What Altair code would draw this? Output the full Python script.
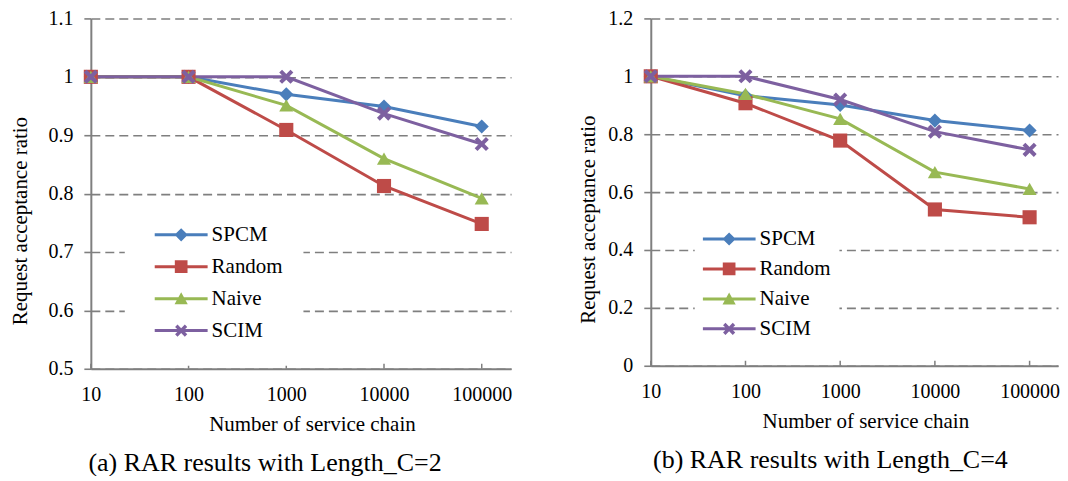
import altair as alt
import pandas as pd

# ---------------- data ----------------
x_vals = [10, 100, 1000, 10000, 100000]
series = ["SPCM", "Random", "Naive", "SCIM"]
colors = ["#4A7EBB", "#BE4B48", "#98B954", "#7D60A0"]

# (a) Length_C = 2
c2_spcm = [1.0, 1.0, 0.970, 0.949, 0.915]
c2_random = [1.0, 1.0, 0.909, 0.813, 0.748]
c2_naive = [1.0, 1.0, 0.951, 0.860, 0.792]
c2_scim = [1.0, 1.0, 1.0, 0.937, 0.885]

# (b) Length_C = 4
c4_spcm = [1.0, 0.933, 0.901, 0.847, 0.813]
c4_random = [1.0, 0.907, 0.778, 0.540, 0.513]
c4_naive = [1.0, 0.939, 0.853, 0.669, 0.611]
c4_scim = [1.0, 1.0, 0.920, 0.809, 0.746]

y_ticks_a = [0.5, 0.6, 0.7, 0.8, 0.9, 1.0, 1.1]
y_ticks_b = [0.0, 0.2, 0.4, 0.6, 0.8, 1.0, 1.2]

FONT = "'Liberation Serif', 'Times New Roman', 'DejaVu Serif', serif"
GRAY = "#7f7f7f"

# ---------------- symbols ----------------
X_PATH = "M-1,-0.6L-0.6,-1L0,-0.4L0.6,-1L1,-0.6L0.4,0L1,0.6L0.6,1L0,0.4L-0.6,1L-1,0.6L-0.4,0Z"
main_shapes = ["diamond", "square", "triangle-up", X_PATH]

LINE = "M-1,-0.057H1V0.057H-1Z"
leg_shapes = [
    LINE + "M-0.25,0L0,-0.25L0.25,0L0,0.25Z",
    LINE + "M-0.24,-0.24H0.24V0.24H-0.24Z",
    LINE + "M-0.25,0.21L0,-0.24L0.25,0.21Z",
    LINE + "M-0.23,-0.138L-0.138,-0.23L0,-0.092L0.138,-0.23L0.23,-0.138L0.092,0L0.23,0.138L0.138,0.23L0,0.092L-0.138,0.23L-0.23,0.138L-0.092,0Z",
]


def make_df(vals):
    rows = []
    for s, v in zip(series, vals):
        for x, y in zip(x_vals, v):
            rows.append({"n": x, "ratio": y, "series": s})
    return pd.DataFrame(rows)


def panel(df, yticks, ydom, width, height, caption, tpad, leg, cdx):
    xs = alt.Scale(type="log", domain=[10, 10 ** 5.3], nice=False)
    ys = alt.Scale(domain=ydom, nice=False, zero=False)
    x_axis = alt.Axis(values=x_vals, format="d", grid=False, ticks=False,
                      domainColor=GRAY, domainWidth=2, labelFont=FONT,
                      labelFontSize=20, labelColor="black", labelPadding=16,
                      labelFlush=False, title="Number of service chain",
                      titleFont=FONT, titleFontSize=21, titleFontWeight="normal",
                      titleColor="black", titlePadding=9, titleX=width / 2 + 11)
    y_axis = alt.Axis(values=yticks, format="~g", grid=True, gridColor=GRAY,
                      gridDash=[9, 5], gridWidth=1.6, domainColor=GRAY,
                      domainWidth=2, tickColor=GRAY, tickSize=7, tickWidth=1.6,
                      labelFont=FONT, labelFontSize=20, labelColor="black",
                      labelPadding=11, title="Request acceptance ratio",
                      titleFont=FONT, titleFontSize=21, titleFontWeight="normal",
                      titleColor="black", titlePadding=tpad,
                      titleY=height / 2 + 27)
    cscale = alt.Scale(domain=series, range=colors)
    base = alt.Chart(df)
    lines = base.mark_line(strokeWidth=3).encode(
        x=alt.X("n:Q", scale=xs, axis=x_axis),
        y=alt.Y("ratio:Q", scale=ys, axis=y_axis),
        color=alt.Color("series:N", scale=cscale, legend=None),
        detail="series:N",
    )
    points = base.mark_point(filled=True, size=200, opacity=1).encode(
        x=alt.X("n:Q", scale=xs),
        y=alt.Y("ratio:Q", scale=ys),
        color=alt.Color("series:N", scale=cscale, legend=None),
        shape=alt.Shape("series:N", scale=alt.Scale(domain=series, range=main_shapes), legend=None),
    )
    ticks = alt.Chart(pd.DataFrame({"n": x_vals})).mark_rule(
        color=GRAY, strokeWidth=1.5).encode(
        x=alt.X("n:Q", scale=xs),
        y=alt.value(height - 5),
        y2=alt.value(height),
    )
    legend = alt.Legend(orient="none", legendX=leg["x"], legendY=leg["y"],
                        padding=leg["pad"], fillColor="white", title=None,
                        symbolOffset=leg["so"], labelOffset=leg["lo"],
                        clipHeight=leg["ch"], rowPadding=2, symbolSize=2809,
                        symbolStrokeWidth=0, symbolOpacity=1, labelFont=FONT,
                        labelFontSize=21, labelColor="black", labelLimit=300)
    leg_layer = base.mark_point(filled=True, size=2809).encode(
        x=alt.X("n:Q", scale=xs),
        y=alt.Y("ratio:Q", scale=ys),
        color=alt.Color("lseries:N", scale=cscale, legend=legend, sort=series),
        shape=alt.Shape("lseries:N", scale=alt.Scale(domain=series, range=leg_shapes),
                        legend=legend, sort=series),
    ).transform_calculate(lseries="datum.series").transform_filter("false")
    return alt.layer(lines, points, ticks, leg_layer).resolve_scale(
        color="independent", shape="independent"
    ).properties(
        width=width, height=height,
        title=alt.TitleParams(text=caption, orient="bottom", anchor="middle",
                              frame="group", dx=cdx, offset=15, fontSize=26,
                              font=FONT, fontWeight="normal", color="black"),
    )


left = panel(make_df([c2_spcm, c2_random, c2_naive, c2_scim]), y_ticks_a, [0.5, 1.1],
             421, 351, "(a) RAR results with Length_C=2", 17,
             {"x": 34, "y": 182, "pad": 20, "so": 10, "lo": 4, "ch": 29.5}, -36)
right = panel(make_df([c4_spcm, c4_random, c4_naive, c4_scim]), y_ticks_b, [0.0, 1.2],
              408, 348, "(b) RAR results with Length_C=4", 9,
              {"x": 44, "y": 199, "pad": 8, "so": 0, "lo": 4, "ch": 28}, -24)

chart = alt.hconcat(left, right, spacing=66).properties(
    padding={"left": 2, "top": 0, "right": 0, "bottom": 0},
    background="white",
).configure_view(stroke=None)

chart.save("out.html", embed_options={"renderer": "svg", "actions": False})
